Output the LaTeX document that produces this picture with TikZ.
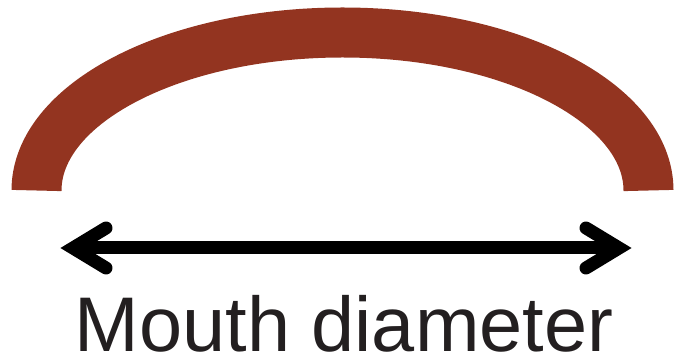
\documentclass[tikz,border=0pt]{standalone}
\usepackage{fontspec}
\setmainfont{Liberation Sans}
\definecolor{archbrown}{RGB}{147,52,32}
\definecolor{inkblack}{RGB}{35,31,32}
\begin{document}
\begin{tikzpicture}[x=1pt,y=1pt,
  archband/.style={draw=archbrown,line width=50pt,line cap=butt},
  dimline/.style={draw=black,line width=13pt,line cap=butt},
  barb/.style={draw=black,line width=13pt,line cap=round,line join=miter,miter limit=10},
  labeltext/.style={inner sep=0pt,anchor=base,text=inkblack,font=\fontsize{77.5}{80}\selectfont}]
\useasboundingbox (0,0) rectangle (676,361);
% arch
\draw[archband] (36.5,170.5) arc[start angle=180,end angle=0,x radius=306,y radius=158];
% arrow
\coordinate (L) at (73,113);
\coordinate (R) at (619,113);
\draw[dimline] (L) -- (R);
\draw[barb] ([shift={(33,20)}]L) -- (L) -- ([shift={(33,-20)}]L);
\draw[barb] ([shift={(-33,20)}]R) -- (R) -- ([shift={(-33,-20)}]R);
% label
\node[labeltext] (lbl) at (344,10) {Mouth diameter};
\end{tikzpicture}
\end{document}
